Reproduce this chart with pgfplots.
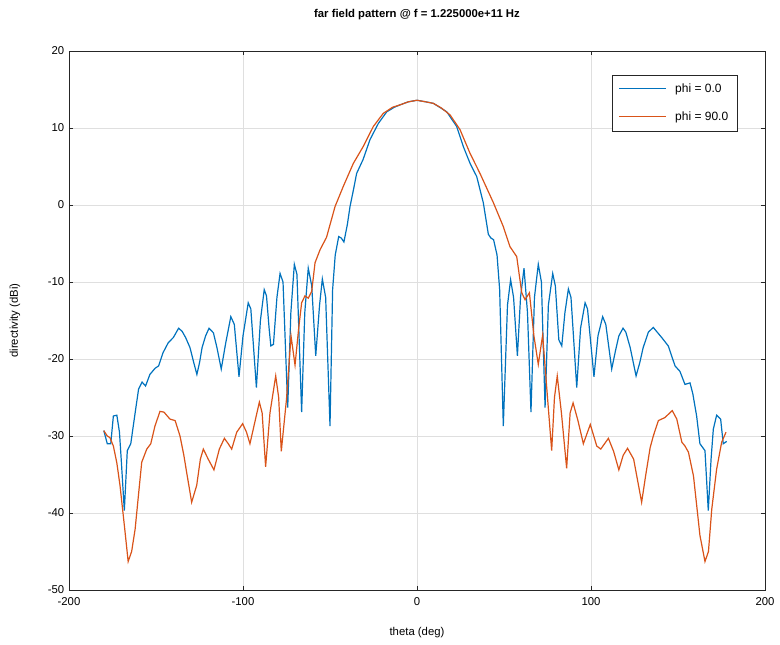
\documentclass[border=0pt]{standalone}
\usepackage{fontspec}
\setmainfont{Liberation Sans}
\usepackage{pgfplots}
\pgfplotsset{compat=1.18}
\definecolor{oblue}{HTML}{0072BD}
\definecolor{oorange}{HTML}{D95319}
\begin{document}
\begin{tikzpicture}
\begin{axis}[
  name=ax,
  scale only axis,
  width=522pt, height=404.25pt,
  xmin=-200, xmax=200, ymin=-50, ymax=20,
  xtick={-200,-100,0,100,200},
  ytick={-50,-40,-30,-20,-10,0,10,20},
  tick align=inside,
  major tick length=3pt,
  grid=major,
  grid style={gray!25, line width=0.5pt},
  axis line style={black!85, line width=0.5pt},
  tick style={black!85, line width=0.5pt},
  /pgf/number format/assume math mode=true,
  tick label style={font=\fontsize{8.5}{10}\selectfont},
  xticklabel style={yshift=-2pt},
  title={\textbf{far field pattern @ f = 1.225000e+11 Hz}},
  every axis title/.style={font=\fontsize{8.5}{10}\selectfont, at={(axis description cs:0.5,1.0668)}, anchor=center},
  xlabel={theta (deg)},
  ylabel={directivity (dBi)},
  every axis x label/.append style={font=\fontsize{8.5}{10}\selectfont, at={(axis description cs:0.5,-0.0798)}, anchor=center},
  every axis y label/.append style={font=\fontsize{8.5}{10}\selectfont, at={(axis description cs:-0.0776,0.5)}, anchor=center},
  legend cell align=left,
  legend style={at={(0.961,0.955)}, anchor=north east, draw=black!85, fill=white,
    font=\fontsize{9}{10.5}\selectfont, inner xsep=5pt, inner ysep=4.5pt, row sep=9pt},
  every axis plot/.append style={line width=0.9pt, no markers},
]
\addplot[color=oblue, legend image code/.code={\draw[oblue, line width=0.9pt] (0pt,0.5pt) -- (35pt,0.5pt); \path[draw=none] (0pt,0pt) -- (40pt,0pt);}] coordinates {
(-180,-29.3) (-178,-31.0) (-176,-31.0) (-174.5,-27.4) (-172.5,-27.3) (-171,-29.5) (-170,-33) (-168.2,-39.7)
(-166.5,-31.9) (-164.5,-31.0) (-162,-27) (-160,-23.9) (-158,-23.0) (-156,-23.5) (-153.5,-22.0) (-150.5,-21.2)
(-148.5,-20.9) (-146,-19.2) (-143,-17.9) (-140,-17.2) (-137,-16.0) (-135,-16.4) (-133,-17.2) (-130.5,-18.5)
(-128.5,-20.3) (-126.5,-22.0) (-125,-20.5) (-123.5,-18.5) (-121.5,-17) (-119.5,-16.0) (-117,-16.6) (-115,-18.5)
(-112.5,-21.3) (-110,-18) (-107,-14.5) (-105,-15.5) (-102.3,-22.3) (-100,-17) (-97,-12.7) (-95.5,-13.5)
(-92.3,-23.7) (-90,-15) (-87.8,-11.0) (-86.5,-11.8) (-85,-16) (-84,-18.3) (-82.5,-18.1) (-80.5,-12)
(-78.7,-8.9) (-77,-10) (-74.3,-26.3) (-72.5,-14) (-70.5,-7.7) (-69,-9) (-66.3,-26.9) (-64.5,-14)
(-62.5,-8.2) (-60.5,-10.5) (-58.2,-19.6) (-56,-13) (-54.4,-9.6) (-52.5,-12) (-50,-28.7) (-48.5,-11)
(-47,-6.5) (-45,-4.1) (-43.5,-4.3) (-42,-4.8) (-40,-2.5) (-38.5,-0.2) (-36.5,2.0) (-34.7,4.1)
(-31,5.9) (-27,8.5) (-22.2,10.6) (-17.4,12.1) (-13,12.7) (-9.8,13.0) (-5,13.4) (0,13.6)
(5,13.4) (9.4,13.2) (13,12.7) (17.1,12.1) (22.8,10.2) (26.6,7.6) (30.5,5.4) (34.3,3.7)
(38.1,0.3) (41,-3.8) (42.5,-4.3) (44,-4.5) (46,-6.5) (47.5,-11) (49.6,-28.7) (52,-13)
(53.8,-9.7) (55.5,-12) (57.7,-19.6) (59.5,-12) (61.5,-8.2) (63.5,-14) (65.5,-26.9) (67.5,-12)
(69.7,-7.7) (71.5,-10) (73.6,-26.3) (75.5,-13) (78,-8.9) (79.5,-10.5) (81.5,-17.5) (83.2,-18.3)
(85,-14) (87,-10.9) (88.5,-12) (91.8,-23.7) (94,-16) (96.6,-12.7) (98,-13.5) (101.7,-22.3)
(104,-17) (106.7,-14.5) (108.5,-15.5) (111.9,-21.3) (114,-19) (116,-17) (118.4,-16.0) (120,-16.5)
(122.5,-18.5) (125.9,-22.2) (128,-20.5) (130,-18.5) (133,-16.5) (135.8,-15.9) (138,-16.5) (140.6,-17.2)
(144.4,-18.3) (148.3,-20.9) (151.1,-21.6) (154,-23.3) (156.9,-23.1) (158.5,-24.5) (160.7,-27.4) (162.6,-31.0)
(165.5,-31.9) (167.4,-39.7) (169,-33) (170.3,-29.1) (172.2,-27.3) (174.5,-27.8) (176,-31.0) (178,-30.7)
};
\addlegendentry{phi = 0.0}
\addplot[color=oorange, legend image code/.code={\draw[oorange, line width=0.9pt] (0pt,0.5pt) -- (35pt,0.5pt); \path[draw=none] (0pt,0pt) -- (40pt,0pt);}] coordinates {
(-180,-29.3) (-178,-30.0) (-176.5,-30.2) (-174.5,-31.3) (-172.5,-33.5) (-170.7,-36.4) (-168,-42) (-166,-46.3)
(-164,-45) (-162,-42.1) (-160,-37.5) (-158.2,-33.4) (-155.3,-31.7) (-153,-31.0) (-150.6,-28.7) (-147.7,-26.8)
(-145.4,-26.9) (-142,-27.8) (-139,-28.0) (-136.2,-30.0) (-134,-32.5) (-132.4,-34.7) (-129.5,-38.6) (-126.6,-36.4)
(-124.5,-33) (-122.8,-31.7) (-120,-33.0) (-116.7,-34.4) (-113.6,-31.7) (-110.7,-30.3) (-108.5,-31) (-106.5,-31.7)
(-103.6,-29.5) (-100.2,-28.4) (-98,-29.5) (-96,-31.0) (-93,-28) (-90.6,-25.6) (-89,-27) (-87,-34)
(-84.5,-27) (-81.2,-22.2) (-79.5,-25) (-78,-32) (-75,-25.2) (-72.4,-17.0) (-70.1,-20.8) (-68,-16)
(-66.3,-12.7) (-64.4,-11.8) (-62.5,-12.1) (-60.5,-11.2) (-58.6,-7.5) (-55.7,-5.8) (-52,-4.2) (-47.1,-0.2)
(-42.4,2.4) (-36.6,5.4) (-30.9,7.6) (-25.1,10.2) (-19.4,11.9) (-14,12.7) (-9.8,13.0) (-5,13.4)
(0,13.6) (5,13.4) (9.4,13.2) (14,12.6) (19,11.7) (24.7,9.8) (30.5,6.7) (36.2,4.1)
(43.9,0.3) (49.6,-2.8) (53.4,-5.4) (57.3,-6.7) (60.2,-11.4) (62.1,-12.3) (64.6,-11.4) (67.2,-17.0)
(69.7,-20.7) (72.2,-16.9) (75,-25) (77.4,-31.9) (79,-25) (80.6,-22.2) (83,-27) (86,-34.2)
(88,-27) (89.7,-25.7) (92.5,-28) (95.6,-31.0) (99.6,-28.5) (103.3,-31.3) (105.6,-31.7) (110,-30.3)
(113,-32) (116,-34.4) (118.5,-32.5) (121,-31.6) (124.5,-33) (129.1,-38.6) (131.5,-35) (134,-31.5)
(135.8,-30.0) (138.7,-28.0) (142.5,-27.6) (146.7,-26.7) (149.3,-27.8) (152.2,-30.8) (154,-31.3) (156,-32.1)
(158.9,-35.2) (162.6,-42.9) (165.5,-46.3) (167.5,-45) (169.4,-39.5) (172.2,-34.3) (175.1,-30.8) (177.6,-29.5)
};
\addlegendentry{phi = 90.0}
\end{axis}
\pgfresetboundingbox
\path[use as bounding box] ([shift={(-51.75pt,-40.5pt)}]ax.south west) rectangle ([shift={(11.25pt,38.25pt)}]ax.north east);
\end{tikzpicture}
\end{document}
